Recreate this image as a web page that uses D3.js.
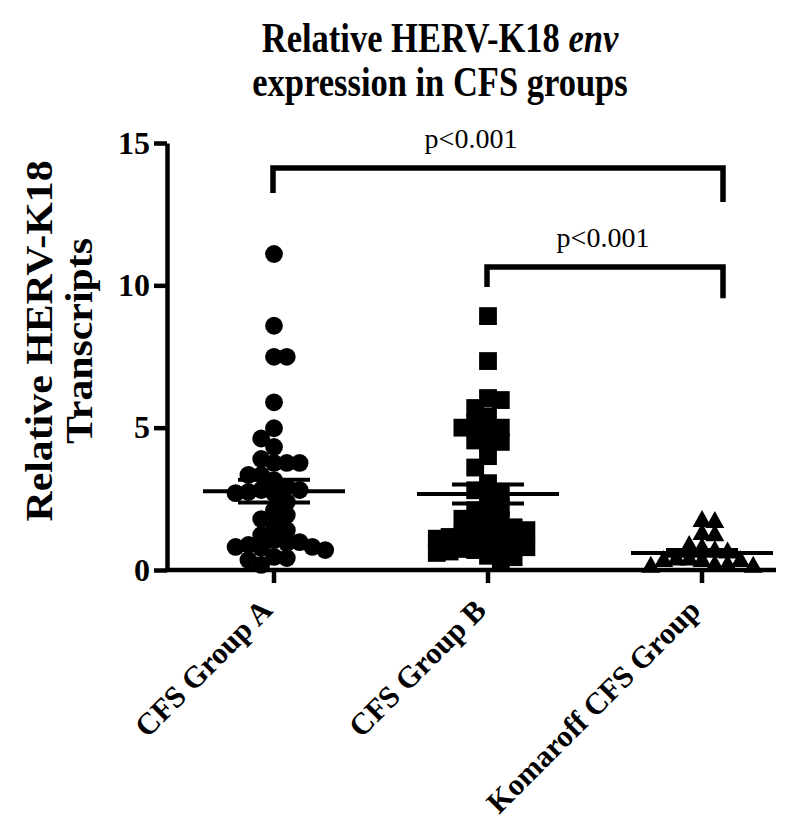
<!DOCTYPE html>
<html>
<head>
<meta charset="utf-8">
<script src="https://cdn.jsdelivr.net/npm/d3@7"></script>
<style>
  body { margin: 0; background: #fff; }
  svg { display: block; }
  text { font-family: "Liberation Serif", "Times New Roman", serif; fill: #000; }
</style>
</head>
<body>
<svg id="chart" width="796" height="829"></svg>
<script>
const categories = ["CFS Group A", "CFS Group B", "Komaroff CFS Group"];
const groupA = [11.1, 8.58, 7.49, 7.49, 5.89, 4.98, 4.62, 4.32, 3.9, 3.76, 3.76, 3.76, 3.34, 3.34, 3.16,
  2.92, 2.81, 2.81, 2.74, 2.7, 2.7, 2.39, 2.1, 1.93, 1.79, 1.58, 1.4, 1.23, 1.05, 0.98, 0.95, 0.88,
  0.81, 0.81, 0.77, 0.7, 0.46, 0.42, 0.35, 0.18];
const groupB = [8.92, 7.34, 6.04, 5.97, 5.69, 5.4, 5.16, 5.0, 5.0, 4.9, 4.55, 4.5, 4.46, 4.0, 3.6,
  3.05, 2.8, 2.75, 2.4, 2.2, 2.1, 1.9, 1.8, 1.75, 1.6, 1.5, 1.45, 1.4, 1.3, 1.2, 1.16, 1.16, 1.1,
  1.0, 0.9, 0.85, 0.8, 0.74, 0.7, 0.65, 0.6, 0.5, 0.45, 0.3];
const groupK = [1.76, 1.72, 1.3, 1.26, 0.88, 0.8, 0.7, 0.65, 0.4, 0.4, 0.35, 0.35, 0.35, 0.2, 0.2, 0.15, 0.15];
const groupMeans = [2.77, 2.67, 0.6];
const groupSems = [0.4, 0.33, 0.1];
const yTicks = [0, 5, 10, 15];

// significance brackets: [from group, to group], bar level and leg ends in data units
const bracketPairs = [[0, 2], [1, 2]];
const bracketLevels = [14.12, 10.64];
const bracketLeftEnds = [13.24, 9.94];
const bracketRightEnds = [12.93, 9.55];
const bracketLabels = ["p<0.001", "p<0.001"];

const svg = d3.select("#chart");
const plotLeft = 167, plotRight = 776, plotTop = 143, plotBottom = 570;
const titleStretch = 1.25; // the original title lettering is taller than it is wide
const ylabStretch = 1.13;

const x = d3.scaleBand().domain(categories).range([167, 809]).padding(0);
const cx = (c) => x(c) + x.bandwidth() / 2;
const y = d3.scaleLinear().domain([0, 15]).range([plotBottom, plotTop]);

// title
const title = svg.append("text")
  .attr("transform", `translate(440,52) scale(1,${titleStretch})`)
  .attr("text-anchor", "middle")
  .attr("font-size", 34.5).attr("font-weight", "bold");
title.append("tspan").text("Relative HERV-K18 ");
title.append("tspan").attr("font-style", "italic").text("env");
svg.append("text")
  .attr("transform", `translate(440,96) scale(1,${titleStretch})`)
  .attr("text-anchor", "middle")
  .attr("font-size", 34.5).attr("font-weight", "bold")
  .text("expression in CFS groups");

// y axis label
const ylab = svg.append("text")
  .attr("transform", `translate(0,341) rotate(-90) scale(${ylabStretch},1)`)
  .attr("text-anchor", "middle")
  .attr("font-size", 37).attr("font-weight", "bold");
ylab.append("tspan").attr("x", 0).attr("y", 52).text("Relative HERV-K18");
ylab.append("tspan").attr("x", 0).attr("y", 92).text("Transcripts");

// y axis
const gy = svg.append("g")
  .attr("transform", `translate(${plotLeft},0)`)
  .call(d3.axisLeft(y).tickValues(yTicks).tickSize(13).tickSizeOuter(0).tickPadding(4));
gy.select(".domain").attr("stroke", "#000").attr("stroke-width", 4.5);
gy.selectAll(".tick line").attr("stroke", "#000").attr("stroke-width", 4.5);
gy.selectAll(".tick text")
  .attr("font-family", "Liberation Serif, Times New Roman, serif")
  .attr("font-size", 32).attr("font-weight", "bold").attr("fill", "#000");

// x axis
const gx = svg.append("g")
  .attr("transform", `translate(0,${plotBottom})`)
  .call(d3.axisBottom(x).tickSize(13).tickSizeOuter(0).tickPadding(0));
gx.select(".domain").remove();
gx.append("line").attr("x1", plotLeft - 2).attr("x2", plotRight).attr("y1", 0).attr("y2", 0)
  .attr("stroke", "#000").attr("stroke-width", 4.5);
gx.selectAll(".tick line").attr("stroke", "#000").attr("stroke-width", 4.5);
gx.selectAll(".tick text")
  .attr("font-family", "Liberation Serif, Times New Roman, serif")
  .attr("font-size", 30.5).attr("font-weight", "bold").attr("fill", "#000")
  .attr("text-anchor", "end")
  .attr("dy", null)
  .attr("y", 0)
  .attr("transform", "translate(0,42) rotate(-45)");

// simple swarm layout so overlapping points spread sideways
function swarm(values, centre) {
  const step = 12.8, minD = 12.5;
  const placed = [];
  values.slice().sort((a, b) => b - a).forEach((v, i) => {
    const py = y(v);
    const side = i % 2 === 0 ? -1 : 1;
    for (let k = 0; k < 60; k++) {
      const off = (k % 2 === 0 ? -side : side) * Math.ceil(k / 2) * step;
      const px = centre + off;
      const ok = placed.every((p) => (p.x - px) ** 2 + (p.y - py) ** 2 >= minD * minD);
      if (ok) { placed.push({ x: px, y: py, v }); break; }
    }
  });
  return placed;
}

const plot = svg.append("g");
const groups = [groupA, groupB, groupK];

plot.selectAll("circle.dot").data(swarm(groups[0], cx(categories[0])))
  .join("circle").attr("class", "dot")
  .attr("cx", (d) => d.x).attr("cy", (d) => d.y).attr("r", 8.9).attr("fill", "#000");

plot.selectAll("rect.dot").data(swarm(groups[1], cx(categories[1])))
  .join("rect").attr("class", "dot")
  .attr("x", (d) => d.x - 8.9).attr("y", (d) => d.y - 8.9)
  .attr("width", 17.8).attr("height", 17.8).attr("fill", "#000");

plot.selectAll("path.dot").data(swarm(groups[2], cx(categories[2])))
  .join("path").attr("class", "dot")
  .attr("d", (d) => `M${d.x},${d.y - 10}L${d.x + 9.5},${d.y + 7}L${d.x - 9.5},${d.y + 7}Z`)
  .attr("fill", "#000");

// mean and SEM bars
categories.forEach((c, i) => {
  const m = groupMeans[i], s = groupSems[i], xc = cx(c);
  plot.append("line").attr("x1", xc - 71).attr("x2", xc + 71)
    .attr("y1", y(m)).attr("y2", y(m)).attr("stroke", "#000").attr("stroke-width", 4);
  [m + s, m - s].forEach((v) => {
    plot.append("line").attr("x1", xc - 36).attr("x2", xc + 36)
      .attr("y1", y(v)).attr("y2", y(v)).attr("stroke", "#000").attr("stroke-width", 4);
  });
});

// significance brackets
const labelShift = [-27, -2];
bracketPairs.forEach(([a, b], i) => {
  const x1 = cx(categories[a]) - 1, x2 = cx(categories[b]) + 21;
  svg.append("path")
    .attr("d", `M${x1},${y(bracketLeftEnds[i])}V${y(bracketLevels[i])}H${x2}V${y(bracketRightEnds[i])}`)
    .attr("fill", "none").attr("stroke", "#000").attr("stroke-width", 5.5);
  svg.append("text")
    .attr("x", (x1 + x2) / 2 + labelShift[i]).attr("y", y(bracketLevels[i]) - 20)
    .attr("text-anchor", "middle").attr("font-size", 28)
    .text(bracketLabels[i]);
});
</script>
</body>
</html>
